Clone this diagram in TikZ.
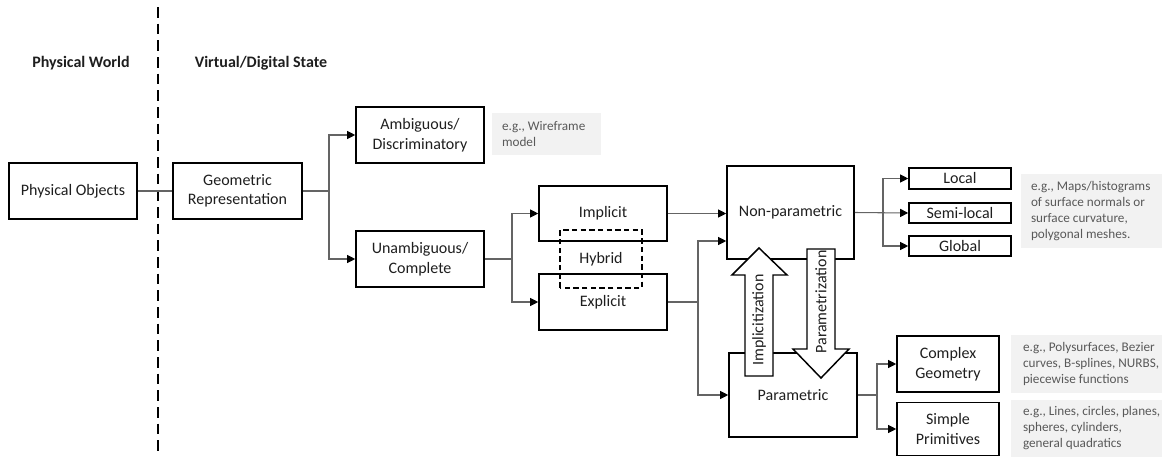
\documentclass[tikz,border=0pt]{standalone}
\usepackage{fontspec}
\setmainfont{Carlito}
\usetikzlibrary{arrows.meta,calc}
\definecolor{linegray}{RGB}{100,100,100}
\definecolor{notefill}{RGB}{242,242,242}
\definecolor{notetext}{RGB}{89,89,89}
\definecolor{ink}{RGB}{30,30,30}

\begin{document}
\begin{tikzpicture}[x=0.75pt,y=-0.75pt,
  box/.style={draw=black, line width=1.2pt, align=center, inner sep=0pt, text=ink,
    font=\fontsize{12}{14.6}\selectfont},
  conn/.style={draw=linegray, line width=0.8pt},
  arr/.style={conn, -{Triangle[length=6pt,width=6pt,color=black]}},
  notebg/.style={fill=notefill, inner sep=0pt},
  notetxt/.style={anchor=west, align=left, inner sep=0pt, text=notetext,
    font=\fontsize{9.9}{12}\selectfont},
  heading/.style={font=\fontsize{12}{14.6}\selectfont\bfseries, text=ink},
  blockarrow/.style={draw=black, fill=white, line width=1.1pt, line join=miter},
]
\useasboundingbox (0,0) rectangle (1165,457);

% divider between the physical and the virtual side
\draw[line width=1.1pt, dash pattern=on 8pt off 4.5pt] (158,7) -- (158,455);
\node[heading] (hpw) at (81,63) {Physical World};
\node[heading] (hvd) at (261,63) {Virtual/Digital State};

% main boxes
\node[box, minimum width=96pt, minimum height=42pt] (po) at (73,191) {Physical Objects};
\node[box, minimum width=96.75pt, minimum height=42pt] (gr) at (237.5,191) {Geometric\\Representation};
\node[box, minimum width=96pt, minimum height=42pt] (amb) at (420,135) {Ambiguous/\\Discriminatory};
\node[box, minimum width=96pt, minimum height=42pt] (unamb) at (420,259) {Unambiguous/\\Complete};
\node[box, minimum width=96pt, minimum height=41.25pt] (impl) at (603,213.5) {Implicit};
\node[box, minimum width=96pt, minimum height=42pt] (expl) at (603,302) {Explicit};
\node[box, draw=none, minimum width=60pt, minimum height=42pt] (hyb) at (601,259) {Hybrid};
\draw[line width=1.1pt, dash pattern=on 4pt off 2.5pt] (hyb.south west) rectangle (hyb.north east);
\node[box, minimum width=95.25pt, minimum height=69.75pt] (np) at (790.5,212.5) {Non-parametric};
\node[box, minimum width=96pt, minimum height=63pt] (par) at (793,395) {Parametric};

\node[box, minimum width=76.5pt, minimum height=15.75pt] (loc) at (960,178.5) {Local};
\node[box, minimum width=76.5pt, minimum height=15pt] (semi) at (960,213) {Semi-local};
\node[box, minimum width=76.5pt, minimum height=15pt] (glob) at (960,246) {Global};
\node[box, minimum width=76.5pt, minimum height=42pt] (cg) at (948,364) {Complex\\Geometry};
\node[box, minimum width=76.5pt, minimum height=39.75pt] (sp) at (948,429) {Simple\\Primitives};

% example notes
\node[notebg, minimum width=81.75pt, minimum height=31.5pt] (n1) at (546.5,134) {};
\node[notetxt] (n1t) at ($(n1.west)+(10,0)$) {e.g., Wireframe\\model};
\node[notebg, minimum width=105.75pt, minimum height=55.5pt] (n2) at (1091.5,211) {};
\node[notetxt] (n2t) at ($(n2.west)+(10,0)$) {e.g., Maps/histograms\\of surface normals or\\surface curvature,\\polygonal meshes.};
\node[notebg, minimum width=113.25pt, minimum height=43.5pt] (n3) at (1086.5,364) {};
\node[notetxt] (n3t) at ($(n3.west)+(12,0)$) {e.g., Polysurfaces, Bezier\\curves, B-splines, NURBS,\\piecewise functions};
\node[notebg, minimum width=113.25pt, minimum height=42.75pt] (n4) at (1086.5,428.5) {};
\node[notetxt] (n4t) at ($(n4.west)+(12,0)$) {e.g., Lines, circles, planes,\\spheres, cylinders,\\general quadratics};

% junctions
\coordinate (j1) at (329,191);
\coordinate (j2) at (512,259);
\coordinate (j3) at (698,302);
\coordinate (j4) at (883,213);
\coordinate (j5) at (877,395);
\coordinate (npin) at ($(np.west)+(0,28.5)$);

% connectors
\draw[conn] (po.east) -- (gr.west);
\draw[conn] (gr.east) -- (j1);
\draw[arr] (j1) |- (amb.west);
\draw[arr] (j1) |- (unamb.west);
\draw[conn] (unamb.east) -- (j2);
\draw[arr] (j2) |- (impl.west);
\draw[arr] (j2) |- (expl.west);
\draw[arr] (impl.east) -- (np.west |- impl.east);
\draw[conn] (expl.east) -- (j3);
\draw[arr] (j3) |- (npin);
\draw[arr] (j3) |- (par.west);
\draw[arr] (np.east) -- (semi.west);
\draw[arr] (j4) |- (loc.west);
\draw[arr] (j4) |- (glob.west);
\draw[conn] (par.east) -- (j5);
\draw[arr] (j5) |- (cg.west);
\draw[arr] (j5) |- (sp.west);

% conversion arrows between the two families
\draw[blockarrow] (745,376) -- (745,275) -- (732,275) -- (759,248) -- (787,275) -- (773,275) -- (773,376) -- cycle;
\node[rotate=90, text=ink, font=\fontsize{12}{14.6}\selectfont] (imp) at (759,320) {Implicitization};
\draw[blockarrow] (807,249) -- (807,349) -- (793,349) -- (821,378) -- (849,349) -- (835,349) -- (835,249) -- cycle;
\node[rotate=90, text=ink, font=\fontsize{12}{14.6}\selectfont] (parz) at (821,302) {Parametrization};
\end{tikzpicture}
\end{document}
